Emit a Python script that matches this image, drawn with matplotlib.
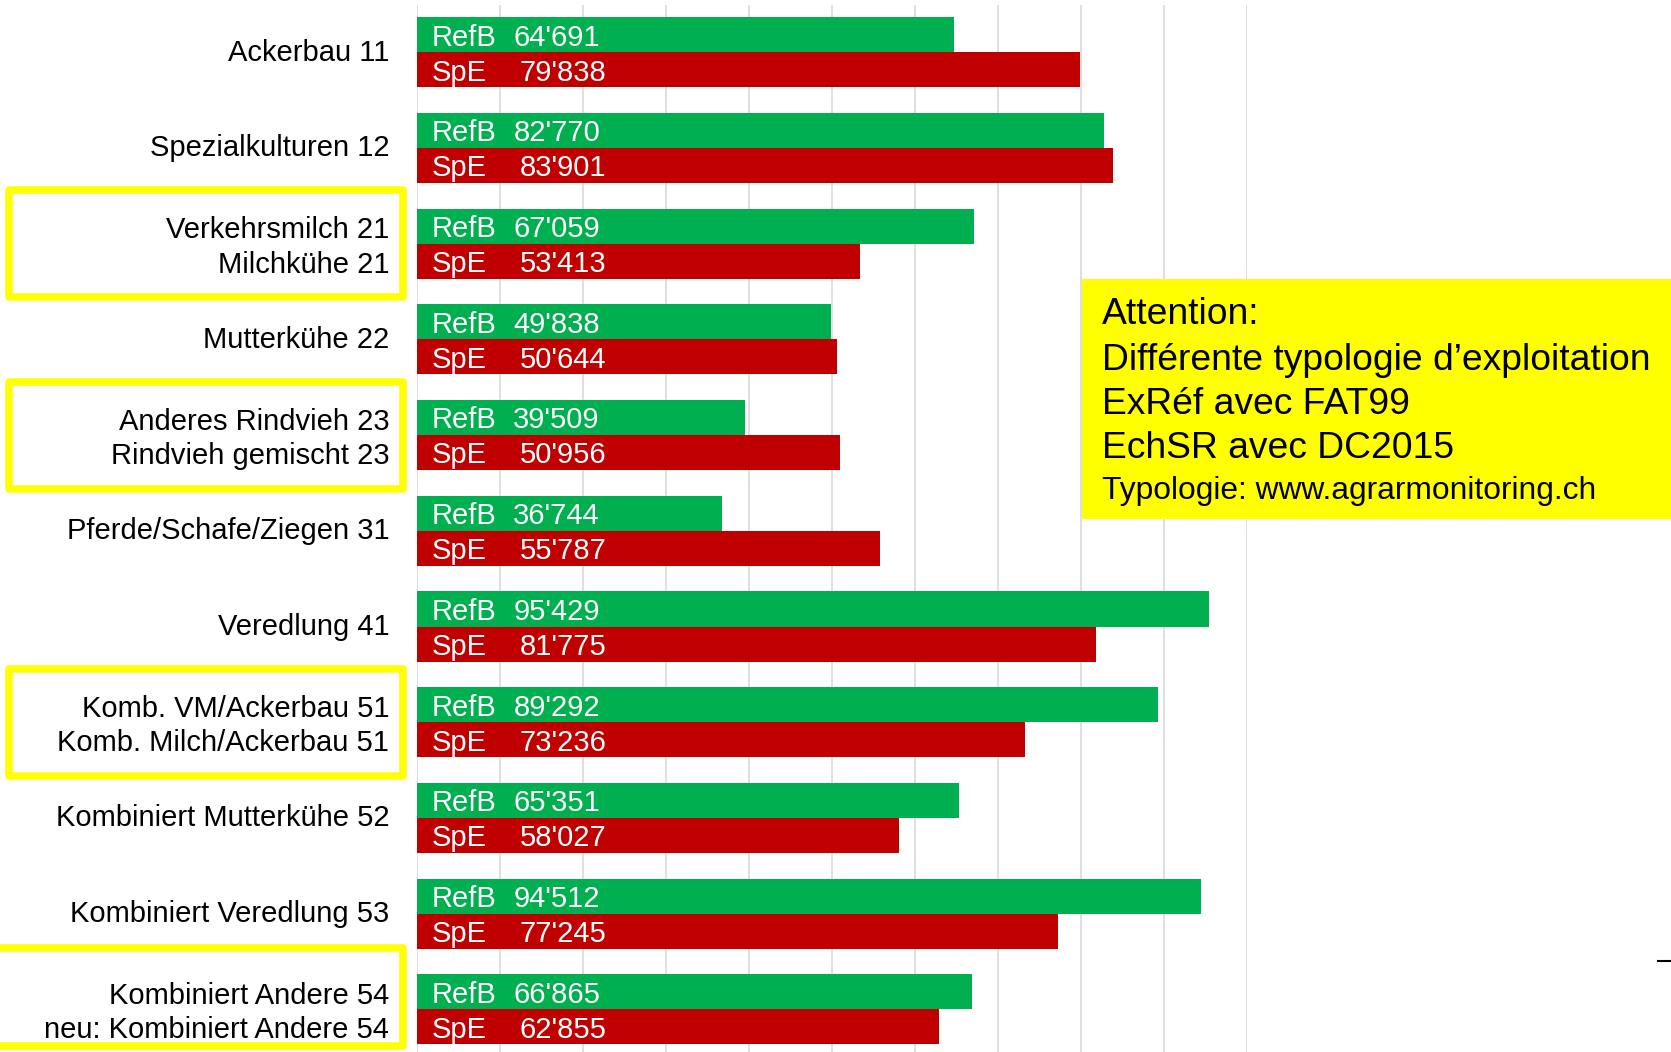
import matplotlib
matplotlib.use("Agg")
import matplotlib.pyplot as plt
from matplotlib.patches import Rectangle
from matplotlib.lines import Line2D
from matplotlib import transforms

plt.rcParams['font.family'] = ['Liberation Sans', 'DejaVu Sans']

# Data
categories = [
    "Ackerbau 11",
    "Spezialkulturen 12",
    "Verkehrsmilch 21\nMilchkühe 21",
    "Mutterkühe 22",
    "Anderes Rindvieh 23\nRindvieh gemischt 23",
    "Pferde/Schafe/Ziegen 31",
    "Veredlung 41",
    "Komb. VM/Ackerbau 51\nKomb. Milch/Ackerbau 51",
    "Kombiniert Mutterkühe 52",
    "Kombiniert Veredlung 53",
    "Kombiniert Andere 54\nneu: Kombiniert Andere 54",
]
refb = [64691, 82770, 67059, 49838, 39509, 36744, 95429, 89292, 65351, 94512, 66865]
spe = [79838, 83901, 53413, 50644, 50956, 55787, 81775, 73236, 58027, 77245, 62855]
boxed = [2, 4, 7, 10]  # categories with yellow frame (new typology)
note_lines = ["Attention:", "Différente typologie d’exploitation",
              "ExRéf avec FAT99", "EchSR avec DC2015"]
note_small = "Typologie: www.agrarmonitoring.ch"

GREEN = "#00B050"
RED = "#C00000"
YELLOW = "#FFFF00"


def fmt(v):
    return f"{v:,}".replace(",", "'")


W, H = 1671, 1052
fig = plt.figure(figsize=(W / 100, H / 100), dpi=100)
ax = fig.add_axes([417 / W, 0, 830 / W, 1047 / H])

bh = 0.366
ys = list(range(len(categories)))
ax.barh([y - bh / 2 for y in ys], refb, height=bh, color=GREEN, zorder=2)
ax.barh([y + bh / 2 for y in ys], spe, height=bh, color=RED, zorder=2)

dy = 0.03  # small nudge so the labels sit like in the original
for y, g, r in zip(ys, refb, spe):
    ax.text(1770, y - bh / 2 + dy, "RefB", color="white", fontsize=21, va="center", ha="left", zorder=3)
    ax.text(11600, y - bh / 2 + dy, fmt(g), color="white", fontsize=21, va="center", ha="left", zorder=3)
    ax.text(1770, y + bh / 2 + dy, "SpE", color="white", fontsize=21, va="center", ha="left", zorder=3)
    ax.text(12400, y + bh / 2 + dy, fmt(r), color="white", fontsize=21, va="center", ha="left", zorder=3)

ax.set_xlim(0, 100000)
ax.set_ylim(10.446, -0.494)
ax.set_xticks(range(0, 100001, 10000))
ax.set_xticklabels([])
ax.tick_params(axis="x", length=0)
ax.grid(axis="x", color="#D9D9D9", linewidth=1.2, zorder=0)
ax.set_axisbelow(True)
ax.set_yticks(ys)
ax.set_yticklabels(categories, fontsize=21, linespacing=1.3)
ax.tick_params(axis="y", length=0, pad=20)
shift = transforms.ScaledTranslation(0, 2.5 / 100, fig.dpi_scale_trans)
for lab in ax.get_yticklabels():
    lab.set_transform(lab.get_transform() + shift)
for s in ax.spines.values():
    s.set_visible(False)

# yellow frames around renamed categories
tr = transforms.blended_transform_factory(fig.transFigure, ax.transData)
for i in boxed:
    if i == 10:
        x0, y0, hh = -20 / W, i - 0.643, 1.029
    else:
        x0, y0, hh = 8.75 / W, i - 0.559, 1.118
    rect = Rectangle((x0, y0), 403 / W - x0, hh, transform=tr,
                     fill=False, edgecolor=YELLOW, linewidth=5.4,
                     joinstyle="round", clip_on=False)
    fig.add_artist(rect)

# note box
fig.add_artist(Rectangle((1081.7 / W, 1 - 519 / H), 1 - 1081.7 / W, 239.8 / H,
                         transform=fig.transFigure, facecolor=YELLOW, edgecolor="none"))
note_y = [315, 360, 404.5, 449]
for txt, yy in zip(note_lines, note_y):
    fig.text(1102 / W, 1 - yy / H, txt, fontsize=26.8, va="center", ha="left")
fig.text(1102 / W, 1 - 491 / H, note_small, fontsize=22.9, va="center", ha="left")

# small dash at the right edge
fig.add_artist(Line2D([1658 / W, 1.0], [1 - 961 / H, 1 - 961 / H],
                      transform=fig.transFigure, color="black", linewidth=1.5))

plt.savefig("out.png", dpi=100)
